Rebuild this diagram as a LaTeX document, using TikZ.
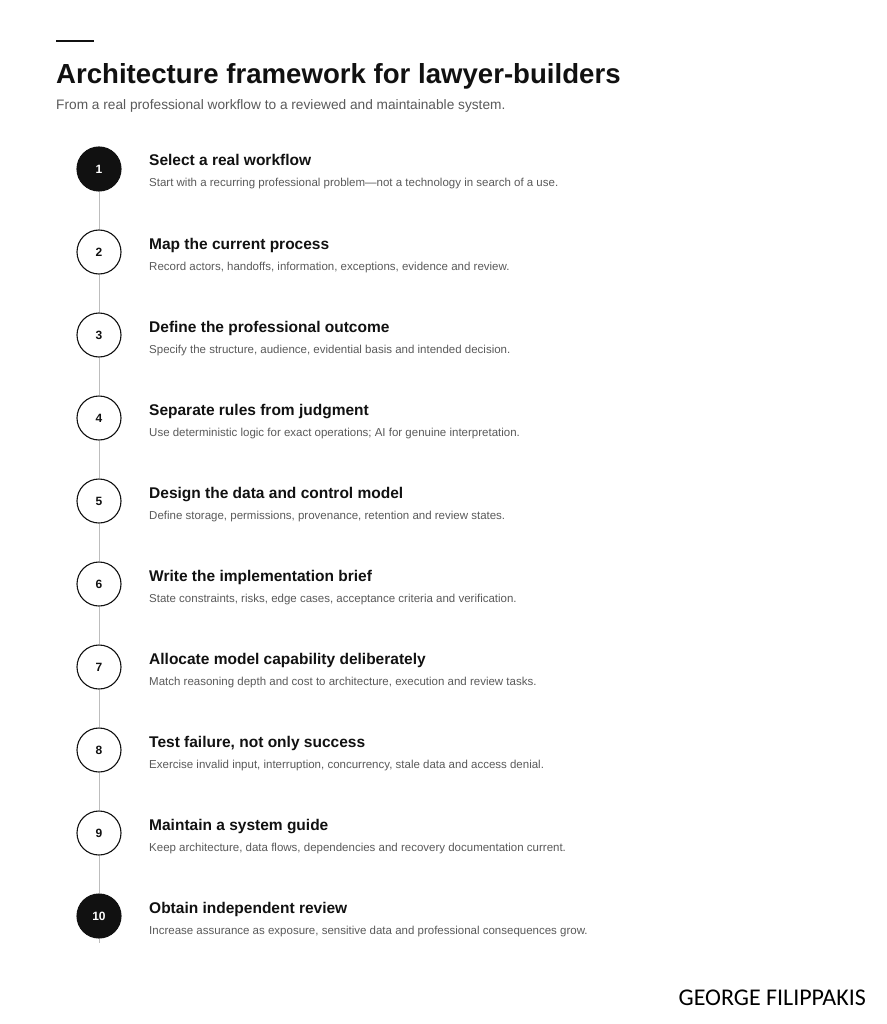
\documentclass[tikz,border=0pt]{standalone}
\usepackage{fontspec}
\setmainfont{Liberation Sans}
\newfontfamily\signfont{Carlito}
\usetikzlibrary{positioning}
\definecolor{ink}{HTML}{111111}
\definecolor{muted}{HTML}{5A5A5A}
\definecolor{rail}{HTML}{BDBDBD}
\tikzset{
  stepnum/.style={circle,draw=ink,line width=1.1pt,fill=white,minimum size=44pt,inner sep=0pt,font=\fontsize{12}{14}\selectfont\bfseries,text=ink},
  stepdark/.style={stepnum,fill=ink,text=white},
  steptitle/.style={anchor=base west,inner sep=0pt,font=\fontsize{15.5}{18}\selectfont\bfseries,text=ink},
  stepnote/.style={anchor=base west,inner sep=0pt,font=\fontsize{11.5}{13}\selectfont,text=muted},
  railline/.style={draw=rail,line width=0.8pt}
}

\begin{document}
\begin{tikzpicture}[x=1pt,y=-1pt]
\useasboundingbox[fill=white] (0,0) rectangle (886,1024);
\draw[ink,line width=2.6pt] (56,41)--(94,41);
\node[anchor=base west,inner sep=0pt,font=\fontsize{27.6}{32}\selectfont\bfseries,text=ink] (title) at (56,83.5) {Architecture framework for lawyer-builders};
\node[anchor=base west,inner sep=0pt,font=\fontsize{13.7}{16}\selectfont,text=muted] (subtitle) at (56,110) {From a real professional workflow to a reviewed and maintainable system.};
% the rail of steps
\node[stepdark] (s1) at (99,169) {1};
\node[stepnum] (s2) at (99,252) {2};
\node[stepnum] (s3) at (99,335) {3};
\node[stepnum] (s4) at (99,418) {4};
\node[stepnum] (s5) at (99,501) {5};
\node[stepnum] (s6) at (99,584) {6};
\node[stepnum] (s7) at (99,667) {7};
\node[stepnum] (s8) at (99,750) {8};
\node[stepnum] (s9) at (99,833) {9};
\node[stepdark] (s10) at (99,916) {10};
\coordinate (tail) at (99,943);
\draw[railline] (s1)--(s2) (s2)--(s3) (s3)--(s4) (s4)--(s5) (s5)--(s6) (s6)--(s7) (s7)--(s8) (s8)--(s9) (s9)--(s10) (s10)--(tail);
% titles and notes
\node[steptitle] (t1) at (149,166) {Select a real workflow};
\node[stepnote] (n1) at (149,187) {Start with a recurring professional problem---not a technology in search of a use.};
\node[steptitle] (t2) at (149,249) {Map the current process};
\node[stepnote] (n2) at (149,270) {Record actors, handoffs, information, exceptions, evidence and review.};
\node[steptitle] (t3) at (149,332) {Define the professional outcome};
\node[stepnote] (n3) at (149,353) {Specify the structure, audience, evidential basis and intended decision.};
\node[steptitle] (t4) at (149,415) {Separate rules from judgment};
\node[stepnote] (n4) at (149,436) {Use deterministic logic for exact operations; AI for genuine interpretation.};
\node[steptitle] (t5) at (149,498) {Design the data and control model};
\node[stepnote] (n5) at (149,519) {Define storage, permissions, provenance, retention and review states.};
\node[steptitle] (t6) at (149,581) {Write the implementation brief};
\node[stepnote] (n6) at (149,602) {State constraints, risks, edge cases, acceptance criteria and verification.};
\node[steptitle] (t7) at (149,664) {Allocate model capability deliberately};
\node[stepnote] (n7) at (149,685) {Match reasoning depth and cost to architecture, execution and review tasks.};
\node[steptitle] (t8) at (149,747) {Test failure, not only success};
\node[stepnote] (n8) at (149,768) {Exercise invalid input, interruption, concurrency, stale data and access denial.};
\node[steptitle] (t9) at (149,830) {Maintain a system guide};
\node[stepnote] (n9) at (149,851) {Keep architecture, data flows, dependencies and recovery documentation current.};
\node[steptitle] (t10) at (149,913) {Obtain independent review};
\node[stepnote] (n10) at (149,934) {Increase assurance as exposure, sensitive data and professional consequences grow.};
\node[anchor=base east,inner sep=0pt,font=\signfont\fontsize{24}{27}\selectfont,text=black] (sign) at (866,1005.5) {GEORGE FILIPPAKIS};
\end{tikzpicture}
\end{document}
